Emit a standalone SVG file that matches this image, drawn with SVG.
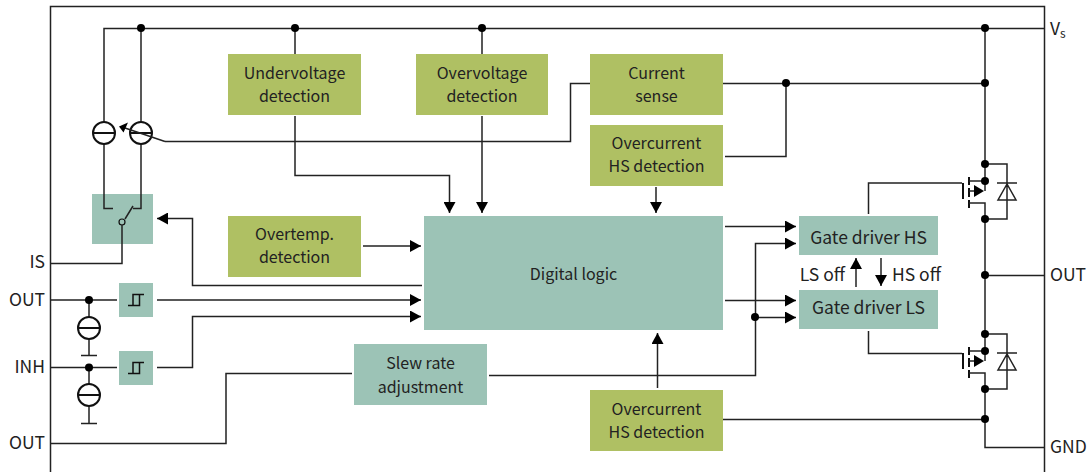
<svg xmlns="http://www.w3.org/2000/svg" width="1088" height="472" viewBox="0 0 1088 472">
<style>
text{font-family:"Noto Sans CJK SC","Noto Sans",sans-serif;font-size:16px;fill:#222;text-anchor:middle}
.l{font-size:17.500px}
.e{text-anchor:end}.s{text-anchor:start}
.g{fill:#afc063}.t{fill:#9cc3b6}
.w{fill:none;stroke:#222;stroke-width:1.5}
.k{fill:none;stroke:#111;stroke-width:2}
.h{fill:none;stroke:#111;stroke-width:1.5}
.d{fill:#000}
</style>
<defs>
<marker id="a" markerWidth="12" markerHeight="12" refX="11" refY="6" orient="auto" markerUnits="userSpaceOnUse"><path d="M0 0L11 6L0 12Z" fill="#000"/></marker>
<g id="cs"><circle r="11" fill="#fff" class="k"/><path d="M-11 0H11" class="k"/></g>
<g id="sm"><path d="M-8 5.500H3.500V-5.500M-3 5.500V-5.500H8" class="h"/></g>
<g id="fet"><path d="M-22 19V35M-16 13V21M-16 24V33M-16 36V44" class="k"/><path d="M-16 17H0M-16 27H-11M-16 39H0V55M0 0V27" class="w"/><path d="M-11 21L-1 27L-11 33Z" class="d"/><path d="M0 0H22V55H0M12 19H32M22 20L13 36H31Z" class="w"/><circle cx="0" cy="0" r="4" class="d"/><circle cx="0" cy="17" r="4" class="d"/><circle cx="0" cy="55" r="4" class="d"/></g>
</defs>
<rect width="1088" height="472" fill="#fff"/>
<path d="M50.500 472V6.500H1044.500V472" class="w"/>
<g id="is-switch"><rect x="92" y="194" width="61" height="50" class="t"/><circle cx="122" cy="222" r="3" fill="#9cc3b6" stroke="#111" stroke-width="1.200"/></g>
<g id="connectors">
<path d="M1044 28.500H104V122M141 28V122M104 144V208.500H113M141 144V208.500H133M133 206L125 219M122 225V263.500H50" class="w"/>
<path d="M295 28V54M482 28V54M985 28V164M985 219V334M985 389V447.500H1044M985 275.500H1044" class="w"/>
<path d="M723 83.500H985M786 83V156.500H725M590 83.500H570.500V141.500H165" class="w"/>
<path d="M295 116V175.500H449.500V213" class="w" marker-end="url(#a)"/>
<path d="M482 116V213" class="w" marker-end="url(#a)"/>
<path d="M656 187V213" class="w" marker-end="url(#a)"/>
<path d="M363 246H421" class="w" marker-end="url(#a)"/>
<path d="M422 285.500H192.500V218.500H157" class="w" marker-end="url(#a)"/>
<path d="M50 300H117M157 300H421" class="w" marker-end="url(#a)"/>
<path d="M157 367.500H192.500V316.500H421" class="w" marker-end="url(#a)"/>
<path d="M725 226.500H796" class="w" marker-end="url(#a)"/>
<path d="M725 300.500H796" class="w" marker-end="url(#a)"/>
<path d="M489 375.500H755.500V243.500H796" class="w" marker-end="url(#a)"/>
<path d="M755 317.500H796" class="w" marker-end="url(#a)"/>
<path d="M657.500 388V333" class="w" marker-end="url(#a)"/>
<path d="M856 287V258" class="w" marker-end="url(#a)"/>
<path d="M881 258V286" class="w" marker-end="url(#a)"/>
<path d="M50 443.500H226V373.500H352M50 367.500H117M89 300V317M89 339V355M81 355.500H97M89 367V384M89 406V423M81 423.500H97" class="w"/>
<path d="M723 419.500H985M868.500 214V183H962M868.500 331V353.500H962" class="w"/>
<circle cx="141" cy="28" r="4" class="d"/><circle cx="295" cy="28" r="4" class="d"/><circle cx="482" cy="28" r="4" class="d"/><circle cx="985" cy="28" r="4" class="d"/><circle cx="985" cy="83" r="4" class="d"/><circle cx="786" cy="83" r="4" class="d"/><circle cx="985" cy="275" r="4" class="d"/><circle cx="985" cy="419" r="4" class="d"/><circle cx="755" cy="317" r="4" class="d"/><circle cx="89" cy="300" r="4" class="d"/><circle cx="89" cy="367.500" r="4" class="d"/>
</g>
<g id="undervoltage"><rect x="228" y="54" width="133" height="61" class="g"/><text x="294.500" y="78.500">Undervoltage</text><text x="294.500" y="101.500">detection</text></g>
<g id="overvoltage"><rect x="416" y="54" width="132" height="61" class="g"/><text x="482" y="78.500">Overvoltage</text><text x="482" y="101.500">detection</text></g>
<g id="current-sense"><rect x="590" y="54" width="133" height="61" class="g"/><text x="656.500" y="78.500">Current</text><text x="656.500" y="101.500">sense</text></g>
<g id="overcurrent-top"><rect x="590" y="125" width="133" height="61" class="g"/><text x="656.500" y="148.500">Overcurrent</text><text x="656.500" y="171.500">HS detection</text></g>
<g id="overtemp"><rect x="228" y="216" width="133" height="61" class="g"/><text x="294.500" y="239.500">Overtemp.</text><text x="294.500" y="262.500">detection</text></g>
<g id="digital-logic"><rect x="424" y="216" width="299" height="114" class="t"/><text x="573.500" y="279.500">Digital logic</text></g>
<g id="slew-rate"><rect x="354" y="344" width="133" height="61" class="t"/><text x="420.500" y="368.500">Slew rate</text><text x="420.500" y="392.500">adjustment</text></g>
<g id="overcurrent-bottom"><rect x="590" y="390" width="133" height="61" class="g"/><text x="656.500" y="414.500">Overcurrent</text><text x="656.500" y="437.500">HS detection</text></g>
<g id="gate-hs"><rect x="799" y="216" width="139" height="39" class="t"/><text class="l" x="868.500" y="243.500">Gate driver HS</text></g>
<g id="gate-ls"><rect x="799" y="290" width="139" height="39" class="t"/><text class="l" x="868.500" y="313.500">Gate driver LS</text></g>
<g id="schmitt-out"><rect x="119" y="283" width="34" height="34" class="t"/><use href="#sm" x="136" y="300"/></g>
<g id="schmitt-inh"><rect x="119" y="351" width="34" height="34" class="t"/><use href="#sm" x="136" y="368"/></g>
<g id="current-sources"><use href="#cs" x="104" y="133"/><use href="#cs" x="141" y="133"/><use href="#cs" x="89" y="328"/><use href="#cs" x="89" y="395"/><path d="M165 141.500L125 128" class="w"/><path d="M119 126.500L128 122.500L123.500 132.500Z" class="d"/></g>
<g id="hs-fet"><use href="#fet" x="985" y="164"/></g>
<g id="ls-fet"><use href="#fet" x="985" y="334"/></g>
<g id="labels">
<text x="45" y="268" class="e l">IS</text><text x="45" y="306" class="e l">OUT</text><text x="45" y="373" class="e l">INH</text><text x="45" y="449" class="e l">OUT</text>
<text x="1050" y="35" class="s l">V<tspan font-size="12" dy="3">s</tspan></text><text x="1050" y="281" class="s l">OUT</text><text x="1050" y="453" class="s l">GND</text>
<text x="845" y="281" class="e l">LS off</text><text x="892" y="281" class="s l">HS off</text>
</g>
</svg>
